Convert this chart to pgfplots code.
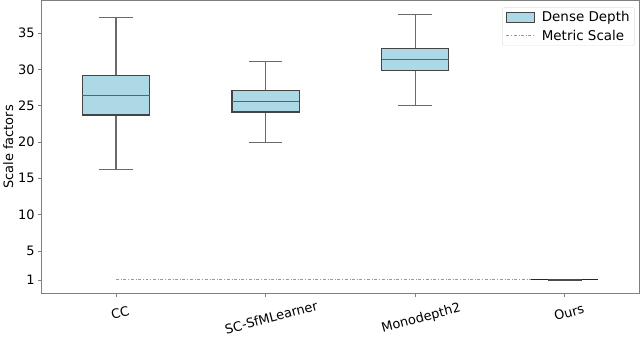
\documentclass[border=0pt]{standalone}
\usepackage{fontspec}
\setmainfont{DejaVu Sans}
\usepackage{pgfplots}
\pgfplotsset{compat=1.18}
\definecolor{boxfill}{HTML}{ADD8E6}
\definecolor{boxedge}{HTML}{444444}
\definecolor{whisk}{HTML}{6A6A6A}
\definecolor{metric}{HTML}{5DAAE3}
\definecolor{spine}{HTML}{7F7F7F}
\pgfplotsset{
  wh/.style={forget plot, color=whisk, line width=1.2pt, mark=none},
  bx/.style={forget plot, fill=boxfill, draw=boxedge, line width=1.2pt, mark=none},
  md/.style={forget plot, draw=boxedge!85, line width=1.1pt, mark=none},
  patchleg/.style={legend image code/.code={\draw[##1, sharp corners] (0bp,-5bp) rectangle (28bp,5bp); \path (33bp,0bp);}},
  lineleg/.style={legend image code/.code={\draw[##1, sharp corners] (0bp,0bp) -- (28bp,0bp); \path (33bp,0bp);}},
}
\begin{document}
\begin{tikzpicture}
\begin{axis}[
  scale only axis,
  width=598bp, height=293bp,
  xmin=0.5, xmax=4.5,
  ymin=-0.9, ymax=39.5,
  ytick={1,5,10,15,20,25,30,35},
  xtick={1,4},
  xticklabels={CC,Ours},
  extra x ticks={2,3},
  extra x tick labels={SC-SfMLearner,Monodepth2},
  extra x tick style={xticklabel style={yshift=-5bp}},
  xticklabel style={rotate=15, anchor=north, yshift=-8bp, font=\fontsize{13}{15}\selectfont},
  yticklabel style={font=\fontsize{13}{15}\selectfont},
  /pgf/number format/assume math mode=true,
  ylabel={Scale factors},
  ylabel style={font=\fontsize{13}{15}\selectfont, yshift=-2bp},
  axis line style={spine, line width=0.9pt},
  tick style={spine, line width=0.6pt},
  tick align=outside,
  major tick length=3bp,
  xtick pos=bottom, ytick pos=left,
  legend style={at={(0.992,0.977)}, anchor=north east, draw=black!12, rounded corners=2pt,
    font=\fontsize{13.5}{15}\selectfont, row sep=3bp, inner xsep=3pt, inner ysep=2pt},
  legend cell align=left,
]
\addlegendimage{patchleg, draw=boxedge, fill=boxfill, line width=1.2pt}
\addlegendentry{Dense Depth}
\addlegendimage{lineleg, metric, dash dot, line width=1pt}
\addlegendentry{Metric Scale}

% CC
\addplot[wh] coordinates {(1,16.25) (1,23.72)};
\addplot[wh] coordinates {(1,29.13) (1,37.1)};
\addplot[wh] coordinates {(0.8875,16.25) (1.1125,16.25)};
\addplot[wh] coordinates {(0.8875,37.1) (1.1125,37.1)};
\addplot[bx] coordinates {(0.775,23.72) (1.225,23.72) (1.225,29.13) (0.775,29.13) (0.775,23.72)} -- cycle;
\addplot[md] coordinates {(0.775,26.39) (1.225,26.39)};
% SC-SfMLearner
\addplot[wh] coordinates {(2,19.9) (2,24.13)};
\addplot[wh] coordinates {(2,27.06) (2,31.1)};
\addplot[wh] coordinates {(1.8875,19.9) (2.1125,19.9)};
\addplot[wh] coordinates {(1.8875,31.1) (2.1125,31.1)};
\addplot[bx] coordinates {(1.775,24.13) (2.225,24.13) (2.225,27.06) (1.775,27.06) (1.775,24.13)} -- cycle;
\addplot[md] coordinates {(1.775,25.55) (2.225,25.55)};
% Monodepth2
\addplot[wh] coordinates {(3,25.04) (3,29.8)};
\addplot[wh] coordinates {(3,32.9) (3,37.55)};
\addplot[wh] coordinates {(2.8875,25.04) (3.1125,25.04)};
\addplot[wh] coordinates {(2.8875,37.55) (3.1125,37.55)};
\addplot[bx] coordinates {(2.775,29.8) (3.225,29.8) (3.225,32.9) (2.775,32.9) (2.775,29.8)} -- cycle;
\addplot[md] coordinates {(2.775,31.3) (3.225,31.3)};
% Metric scale
\addplot[forget plot, metric, dash dot, line width=1pt, mark=none] coordinates {(1,1) (4,1)};
% Ours
\addplot[forget plot, draw=black!85, line width=1.1pt, mark=none] coordinates {(3.775,1) (4.225,1)};
\addplot[wh, draw=black!70, line width=1.8pt] coordinates {(3.8875,0.96) (4.1125,0.96)};
\addplot[wh, draw=black!70, line width=1.8pt] coordinates {(3.8875,1.04) (4.1125,1.04)};
\addplot[forget plot, draw=black!70, line width=1.2pt, mark=none] coordinates {(4,0.88) (4,1.12)};
\end{axis}
\end{tikzpicture}
\end{document}
